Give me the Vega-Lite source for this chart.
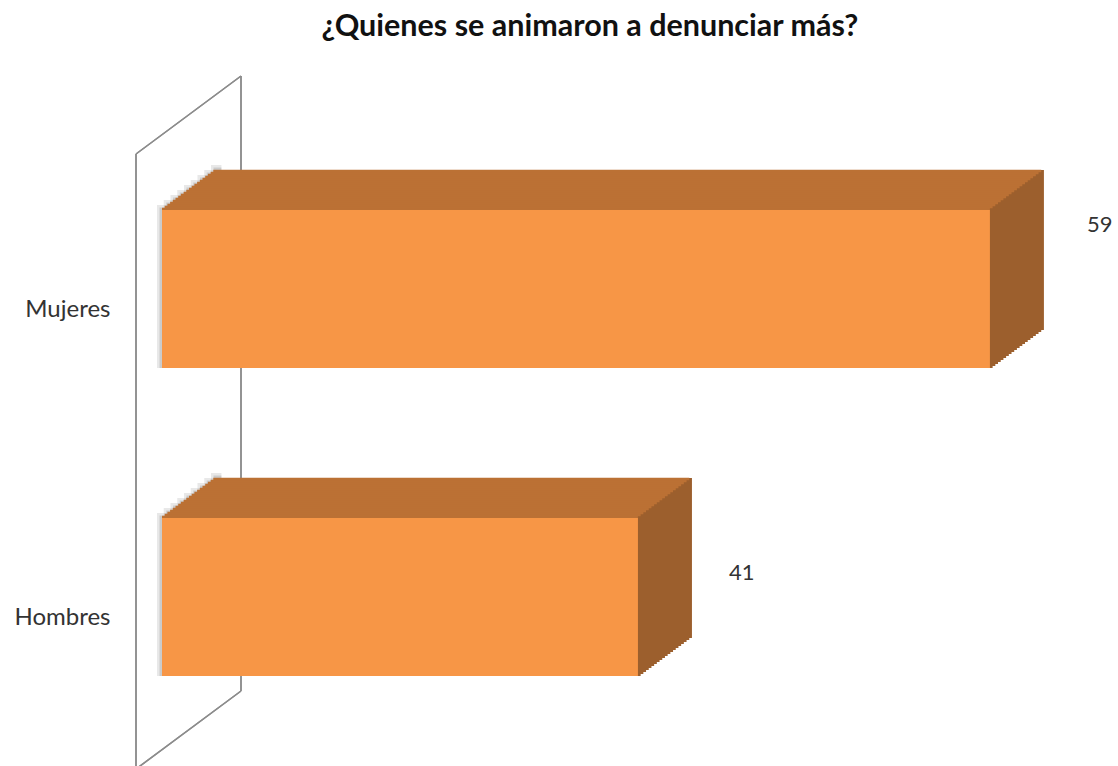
{
  "$schema": "https://vega.github.io/schema/vega-lite/v6.json",
  "width": 842,
  "height": 646,
  "autosize": {"type": "none"},
  "padding": {"left": 162, "top": 120, "right": 114, "bottom": 0},
  "background": "white",
  "config": {"view": {"stroke": null}},
  "title": {
    "text": "¿Quienes se animaron a denunciar más?",
    "font": "Lato",
    "fontSize": 30.5,
    "fontWeight": "bold",
    "color": "#111111",
    "anchor": "middle",
    "frame": "group",
    "offset": 33,
    "dx": 7
  },
  "data": {"values": [
    {"Sexo": "Mujeres", "Valor": 59},
    {"Sexo": "Hombres", "Valor": 41}
  ]},
  "encoding": {
    "y": {
      "field": "Sexo",
      "type": "nominal",
      "sort": ["Mujeres", "Hombres"],
      "scale": {"paddingInner": 0.5, "paddingOuter": 0.2987},
      "axis": {
        "title": null,
        "ticks": false,
        "domain": false,
        "labelFont": "Lato",
        "labelFontSize": 24,
        "labelColor": "#333333",
        "labelPadding": 52,
        "labelOffset": 21
      }
    },
    "x": {
      "field": "Valor",
      "type": "quantitative",
      "scale": {"domain": [16.66, 59.72], "nice": false},
      "axis": null
    },
    "x2": {"datum": 16.66}
  },
  "layer": [
    {"mark": {"type": "rule", "color": "#8C8C8C", "strokeWidth": 1.5, "xOffset": -26, "x2Offset": -26, "yOffset": -135, "y2Offset": 172},
     "encoding": {"x": {"datum": 16.66, "type": "quantitative"}, "x2": {"datum": 16.66}, "y": {"datum": "Mujeres", "type": "nominal"}, "y2": {"datum": "Hombres"}}},
    {"mark": {"type": "rule", "color": "#8C8C8C", "strokeWidth": 1.5, "xOffset": 79, "x2Offset": 79, "yOffset": -213, "y2Offset": 94},
     "encoding": {"x": {"datum": 16.66, "type": "quantitative"}, "x2": {"datum": 16.66}, "y": {"datum": "Mujeres", "type": "nominal"}, "y2": {"datum": "Hombres"}}},
    {"mark": {"type": "rule", "color": "#8C8C8C", "strokeWidth": 1.5, "xOffset": -26, "x2Offset": 79, "yOffset": -135, "y2Offset": -213},
     "encoding": {"x": {"datum": 16.66, "type": "quantitative"}, "x2": {"datum": 16.66}, "y": {"datum": "Mujeres", "type": "nominal"}, "y2": {"datum": "Mujeres"}}},
    {"mark": {"type": "rule", "color": "#8C8C8C", "strokeWidth": 1.5, "xOffset": 79, "x2Offset": -26, "yOffset": 94, "y2Offset": 172},
     "encoding": {"x": {"datum": 16.66, "type": "quantitative"}, "x2": {"datum": 16.66}, "y": {"datum": "Hombres", "type": "nominal"}, "y2": {"datum": "Hombres"}}},

    {"mark": {"type": "bar", "color": "#808080", "opacity": 0.18, "height": 163, "x2Offset": -5, "yOffset": -2.5}, "encoding": {"x": {"datum": 19.7, "type": "quantitative"}}},
    {"mark": {"type": "bar", "color": "#808080", "opacity": 0.18, "height": 163, "x2Offset": 1.75, "yOffset": -7.5}, "encoding": {"x": {"datum": 19.7, "type": "quantitative"}}},
    {"mark": {"type": "bar", "color": "#808080", "opacity": 0.18, "height": 163, "x2Offset": 8.5, "yOffset": -12.5}, "encoding": {"x": {"datum": 19.7, "type": "quantitative"}}},
    {"mark": {"type": "bar", "color": "#808080", "opacity": 0.18, "height": 163, "x2Offset": 15.25, "yOffset": -17.5}, "encoding": {"x": {"datum": 19.7, "type": "quantitative"}}},
    {"mark": {"type": "bar", "color": "#808080", "opacity": 0.18, "height": 163, "x2Offset": 22, "yOffset": -22.5}, "encoding": {"x": {"datum": 19.7, "type": "quantitative"}}},
    {"mark": {"type": "bar", "color": "#808080", "opacity": 0.18, "height": 163, "x2Offset": 28.75, "yOffset": -27.5}, "encoding": {"x": {"datum": 19.7, "type": "quantitative"}}},
    {"mark": {"type": "bar", "color": "#808080", "opacity": 0.18, "height": 163, "x2Offset": 35.5, "yOffset": -32.5}, "encoding": {"x": {"datum": 19.7, "type": "quantitative"}}},
    {"mark": {"type": "bar", "color": "#808080", "opacity": 0.18, "height": 163, "x2Offset": 42.25, "yOffset": -37.5}, "encoding": {"x": {"datum": 19.7, "type": "quantitative"}}},
    {"mark": {"type": "bar", "color": "#808080", "opacity": 0.18, "height": 163, "x2Offset": 49, "yOffset": -42.5}, "encoding": {"x": {"datum": 19.7, "type": "quantitative"}}},
    {"mark": {"type": "bar", "color": "#808080", "opacity": 0.28, "height": 160.5, "x2Offset": -2.5, "yOffset": -1.25}, "encoding": {"x": {"datum": 19.7, "type": "quantitative"}}},
    {"mark": {"type": "bar", "color": "#808080", "opacity": 0.28, "height": 160.5, "x2Offset": 4.25, "yOffset": -6.25}, "encoding": {"x": {"datum": 19.7, "type": "quantitative"}}},
    {"mark": {"type": "bar", "color": "#808080", "opacity": 0.28, "height": 160.5, "x2Offset": 11, "yOffset": -11.25}, "encoding": {"x": {"datum": 19.7, "type": "quantitative"}}},
    {"mark": {"type": "bar", "color": "#808080", "opacity": 0.28, "height": 160.5, "x2Offset": 17.75, "yOffset": -16.25}, "encoding": {"x": {"datum": 19.7, "type": "quantitative"}}},
    {"mark": {"type": "bar", "color": "#808080", "opacity": 0.28, "height": 160.5, "x2Offset": 24.5, "yOffset": -21.25}, "encoding": {"x": {"datum": 19.7, "type": "quantitative"}}},
    {"mark": {"type": "bar", "color": "#808080", "opacity": 0.28, "height": 160.5, "x2Offset": 31.25, "yOffset": -26.25}, "encoding": {"x": {"datum": 19.7, "type": "quantitative"}}},
    {"mark": {"type": "bar", "color": "#808080", "opacity": 0.28, "height": 160.5, "x2Offset": 38, "yOffset": -31.25}, "encoding": {"x": {"datum": 19.7, "type": "quantitative"}}},
    {"mark": {"type": "bar", "color": "#808080", "opacity": 0.28, "height": 160.5, "x2Offset": 44.75, "yOffset": -36.25}, "encoding": {"x": {"datum": 19.7, "type": "quantitative"}}},
    {"mark": {"type": "bar", "color": "#808080", "opacity": 0.28, "height": 160.5, "x2Offset": 51.5, "yOffset": -41.25}, "encoding": {"x": {"datum": 19.7, "type": "quantitative"}}},

    {"mark": {"type": "bar", "color": "#9C5F2D", "height": 160, "xOffset": 2.7, "x2Offset": 2.7, "yOffset": -1}},
    {"mark": {"type": "bar", "color": "#9C5F2D", "height": 160, "xOffset": 5.4, "x2Offset": 5.4, "yOffset": -3}},
    {"mark": {"type": "bar", "color": "#9C5F2D", "height": 160, "xOffset": 8.1, "x2Offset": 8.1, "yOffset": -5}},
    {"mark": {"type": "bar", "color": "#9C5F2D", "height": 160, "xOffset": 10.8, "x2Offset": 10.8, "yOffset": -7}},
    {"mark": {"type": "bar", "color": "#9C5F2D", "height": 160, "xOffset": 13.5, "x2Offset": 13.5, "yOffset": -9}},
    {"mark": {"type": "bar", "color": "#9C5F2D", "height": 160, "xOffset": 16.2, "x2Offset": 16.2, "yOffset": -11}},
    {"mark": {"type": "bar", "color": "#9C5F2D", "height": 160, "xOffset": 18.9, "x2Offset": 18.9, "yOffset": -13}},
    {"mark": {"type": "bar", "color": "#9C5F2D", "height": 160, "xOffset": 21.6, "x2Offset": 21.6, "yOffset": -15}},
    {"mark": {"type": "bar", "color": "#9C5F2D", "height": 160, "xOffset": 24.3, "x2Offset": 24.3, "yOffset": -17}},
    {"mark": {"type": "bar", "color": "#9C5F2D", "height": 160, "xOffset": 27, "x2Offset": 27, "yOffset": -19}},
    {"mark": {"type": "bar", "color": "#9C5F2D", "height": 160, "xOffset": 29.7, "x2Offset": 29.7, "yOffset": -21}},
    {"mark": {"type": "bar", "color": "#9C5F2D", "height": 160, "xOffset": 32.4, "x2Offset": 32.4, "yOffset": -23}},
    {"mark": {"type": "bar", "color": "#9C5F2D", "height": 160, "xOffset": 35.1, "x2Offset": 35.1, "yOffset": -25}},
    {"mark": {"type": "bar", "color": "#9C5F2D", "height": 160, "xOffset": 37.8, "x2Offset": 37.8, "yOffset": -27}},
    {"mark": {"type": "bar", "color": "#9C5F2D", "height": 160, "xOffset": 40.5, "x2Offset": 40.5, "yOffset": -29}},
    {"mark": {"type": "bar", "color": "#9C5F2D", "height": 160, "xOffset": 43.2, "x2Offset": 43.2, "yOffset": -31}},
    {"mark": {"type": "bar", "color": "#9C5F2D", "height": 160, "xOffset": 45.9, "x2Offset": 45.9, "yOffset": -33}},
    {"mark": {"type": "bar", "color": "#9C5F2D", "height": 160, "xOffset": 48.6, "x2Offset": 48.6, "yOffset": -35}},
    {"mark": {"type": "bar", "color": "#9C5F2D", "height": 160, "xOffset": 51.3, "x2Offset": 51.3, "yOffset": -37}},
    {"mark": {"type": "bar", "color": "#9C5F2D", "height": 160, "xOffset": 54, "x2Offset": 54, "yOffset": -39}},

    {"mark": {"type": "bar", "color": "#BB7134", "height": 2.6, "xOffset": 0, "x2Offset": 0, "yOffset": -80}},
    {"mark": {"type": "bar", "color": "#BB7134", "height": 2.6, "xOffset": 2.7, "x2Offset": 2.7, "yOffset": -82}},
    {"mark": {"type": "bar", "color": "#BB7134", "height": 2.6, "xOffset": 5.4, "x2Offset": 5.4, "yOffset": -84}},
    {"mark": {"type": "bar", "color": "#BB7134", "height": 2.6, "xOffset": 8.1, "x2Offset": 8.1, "yOffset": -86}},
    {"mark": {"type": "bar", "color": "#BB7134", "height": 2.6, "xOffset": 10.8, "x2Offset": 10.8, "yOffset": -88}},
    {"mark": {"type": "bar", "color": "#BB7134", "height": 2.6, "xOffset": 13.5, "x2Offset": 13.5, "yOffset": -90}},
    {"mark": {"type": "bar", "color": "#BB7134", "height": 2.6, "xOffset": 16.2, "x2Offset": 16.2, "yOffset": -92}},
    {"mark": {"type": "bar", "color": "#BB7134", "height": 2.6, "xOffset": 18.9, "x2Offset": 18.9, "yOffset": -94}},
    {"mark": {"type": "bar", "color": "#BB7134", "height": 2.6, "xOffset": 21.6, "x2Offset": 21.6, "yOffset": -96}},
    {"mark": {"type": "bar", "color": "#BB7134", "height": 2.6, "xOffset": 24.3, "x2Offset": 24.3, "yOffset": -98}},
    {"mark": {"type": "bar", "color": "#BB7134", "height": 2.6, "xOffset": 27, "x2Offset": 27, "yOffset": -100}},
    {"mark": {"type": "bar", "color": "#BB7134", "height": 2.6, "xOffset": 29.7, "x2Offset": 29.7, "yOffset": -102}},
    {"mark": {"type": "bar", "color": "#BB7134", "height": 2.6, "xOffset": 32.4, "x2Offset": 32.4, "yOffset": -104}},
    {"mark": {"type": "bar", "color": "#BB7134", "height": 2.6, "xOffset": 35.1, "x2Offset": 35.1, "yOffset": -106}},
    {"mark": {"type": "bar", "color": "#BB7134", "height": 2.6, "xOffset": 37.8, "x2Offset": 37.8, "yOffset": -108}},
    {"mark": {"type": "bar", "color": "#BB7134", "height": 2.6, "xOffset": 40.5, "x2Offset": 40.5, "yOffset": -110}},
    {"mark": {"type": "bar", "color": "#BB7134", "height": 2.6, "xOffset": 43.2, "x2Offset": 43.2, "yOffset": -112}},
    {"mark": {"type": "bar", "color": "#BB7134", "height": 2.6, "xOffset": 45.9, "x2Offset": 45.9, "yOffset": -114}},
    {"mark": {"type": "bar", "color": "#BB7134", "height": 2.6, "xOffset": 48.6, "x2Offset": 48.6, "yOffset": -116}},
    {"mark": {"type": "bar", "color": "#BB7134", "height": 2.6, "xOffset": 51.3, "x2Offset": 51.3, "yOffset": -118}},

    {"mark": {"type": "bar", "color": "#F79646", "height": 158}},

    {"mark": {"type": "text", "font": "Lato", "fontSize": 22, "color": "#333333", "align": "left", "baseline": "middle",
              "dx": {"expr": "datum.Sexo === 'Mujeres' ? 97 : 91"},
              "dy": {"expr": "datum.Sexo === 'Mujeres' ? -64 : -24"}},
     "encoding": {"text": {"field": "Valor", "type": "quantitative"}}}
  ]
}
